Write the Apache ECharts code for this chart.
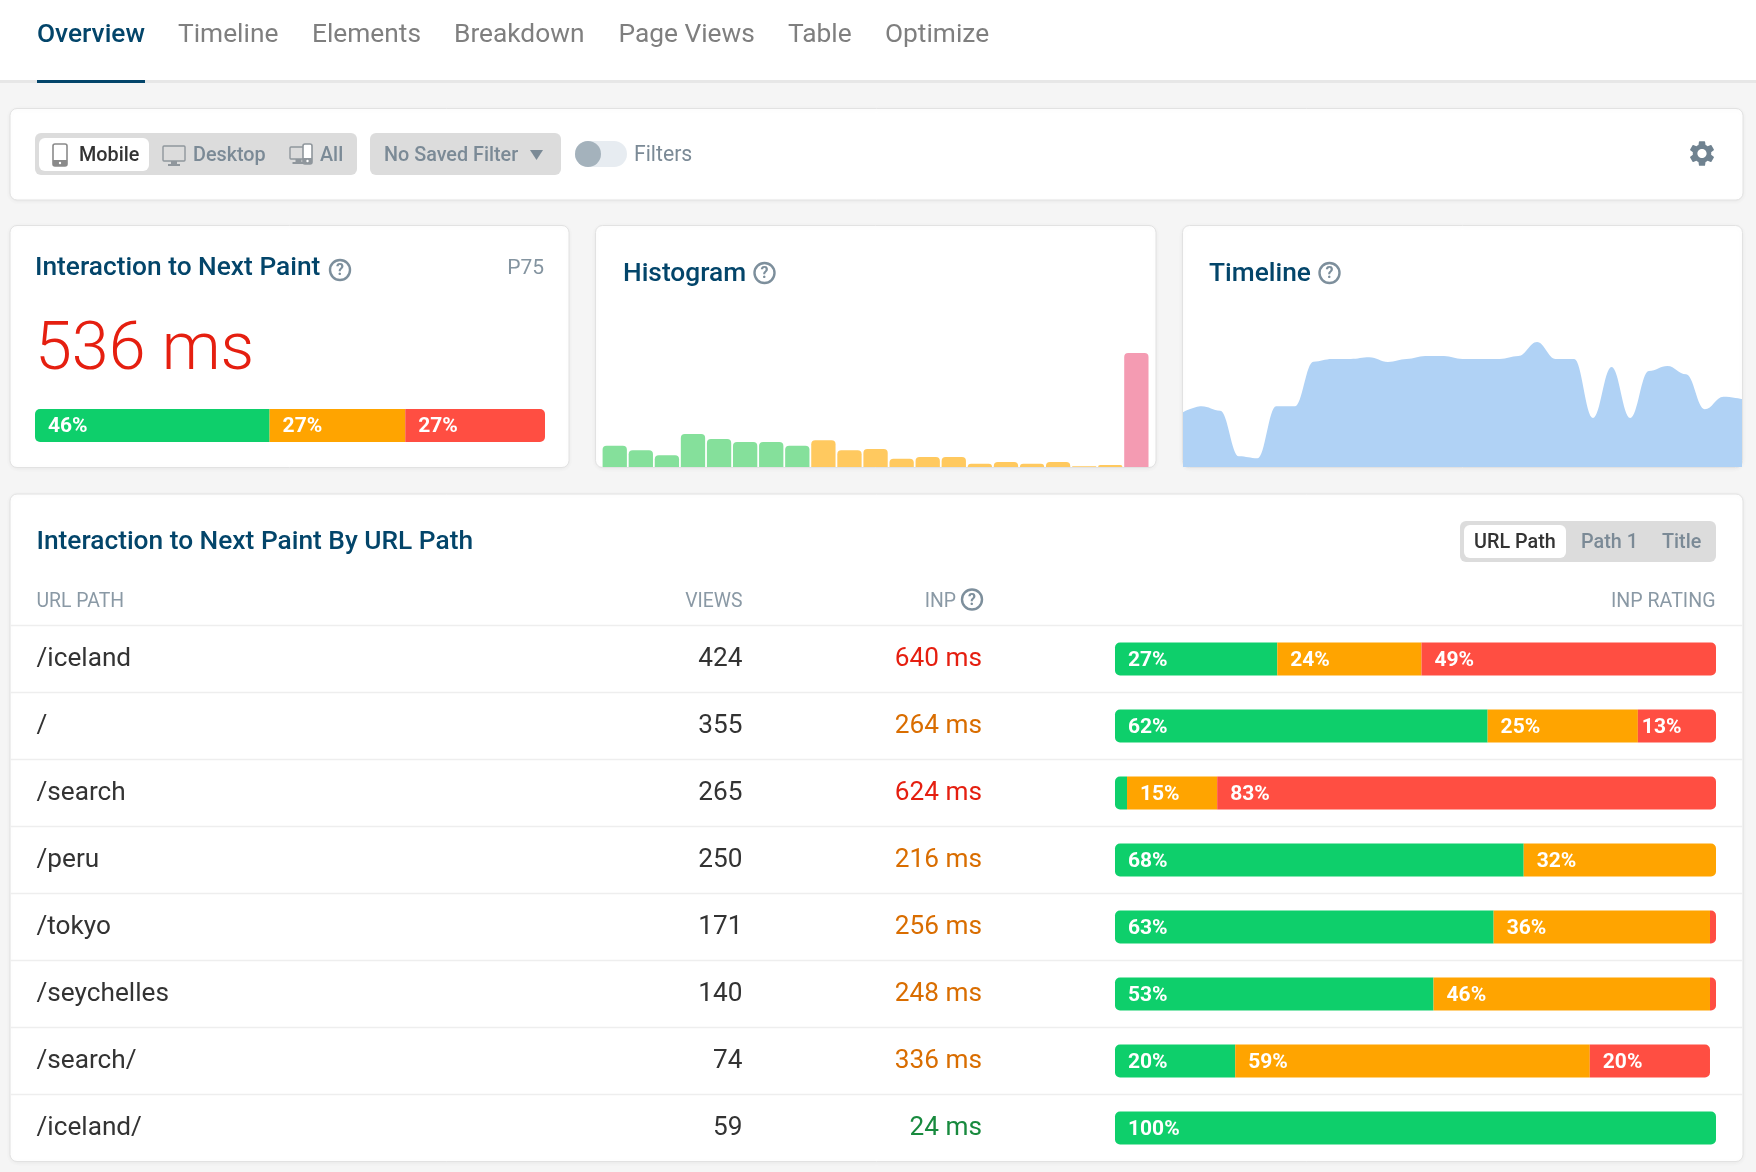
<!DOCTYPE html>
<html><head><meta charset="utf-8">
<style>html,body{margin:0;padding:0;background:#f5f5f5}#c{width:1756px;height:1172px}</style>
<script src="https://cdn.jsdelivr.net/npm/echarts@6/dist/echarts.min.js"></script>
</head><body><div id="c"></div>
<script>
const tabLabels = ['Overview','Timeline','Elements','Breakdown','Page Views','Table','Optimize'];
const summaryShares = [46, 26.6, 27.4];
const pathNames = ['/iceland','/','/search','/peru','/tokyo','/seychelles','/search/','/iceland/'];
const viewCounts = [424,355,265,250,171,140,74,59];
const inpValues = [640,264,624,216,256,248,336,24];
const goodShare = [27,62,2,68,63,53,20,100];
const mediumShare = [24,25,15,32,36,46,59,0];
const poorShare = [49,13,83,0,1,1,20,0];
const histogramValues = [64,50,35,99,84,75,75,64,80,50,54,25,30,30,10,15,10,15,2,6,342];
const timelineValues = [164,182,169,32,26,182,182,316,324,324,329,315,324,333,333,324,324,324,333,375,324,324,147,300,147,288,303,278,173,211,204];

const GREEN='#0ecf6b', ORANGE='#ffa400', RED='#ff4e42';
const NAVY='#03456a', GREY='#7b8a96';
const FONT='Roboto';
const GEAR='M19.14 12.94c.04-.3.06-.61.06-.94 0-.32-.02-.64-.07-.94l2.03-1.58c.18-.14.23-.41.12-.61l-1.92-3.32c-.12-.22-.37-.29-.59-.22l-2.39.96c-.5-.38-1.03-.7-1.62-.94l-.36-2.54c-.04-.24-.24-.41-.48-.41h-3.84c-.24 0-.43.17-.47.41l-.36 2.54c-.59.24-1.13.57-1.62.94l-2.39-.96c-.22-.08-.47 0-.59.22L2.74 8.87c-.12.21-.08.47.12.61l2.03 1.58c-.05.3-.09.63-.09.94s.02.64.07.94l-2.03 1.58c-.18.14-.23.41-.12.61l1.92 3.32c.12.22.37.29.59.22l2.39-.96c.5.38 1.03.7 1.62.94l.36 2.54c.05.24.24.41.48.41h3.84c.24 0 .44-.17.47-.41l.36-2.54c.59-.24 1.13-.56 1.62-.94l2.39.96c.22.08.47 0 .59-.22l1.92-3.32c.12-.22.07-.47-.12-.61l-2.01-1.58zM12 15.6c-1.98 0-3.6-1.62-3.6-3.6s1.62-3.6 3.6-3.6 3.6 1.62 3.6 3.6-1.62 3.6-3.6 3.6z';
const G=[];
function rect(x,y,w,h,fill,r,stroke){G.push({type:'rect',shape:{x,y,width:w,height:h,r:r||0},style:{fill,stroke:stroke||null,lineWidth:stroke?1:0}});}
function text(t,x,y,size,color,weight,align){G.push({type:'text',x,y:y+size*0.07,style:{text:t,fill:color,font:(weight||400)+' '+size+'px '+FONT,textAlign:align||'left',textVerticalAlign:'middle'}});}
function card(x,y,w,h){G.push({type:'rect',shape:{x:x,y:y,width:w,height:h,r:7},style:{fill:'#fff',stroke:'#e2e2e2',lineWidth:1,shadowBlur:4,shadowColor:'rgba(0,0,0,0.05)',shadowOffsetY:1}});}
function help(x,y){G.push({type:'circle',shape:{cx:x,cy:y,r:10},style:{fill:'none',stroke:'#7d8f9c',lineWidth:2.4}});text('?',x,y,16,'#7d8f9c',700,'center');}
function line(x1,y1,x2,y2,color,w){G.push({type:'line',shape:{x1,y1,x2,y2},style:{stroke:color,lineWidth:w||1}});}

// top tabs
rect(0,0,1756,80,'#fff');
rect(0,80,1756,3,'#e7e7e7');
rect(37,80,108,3,NAVY);
const tabX=[37,178,312,454,618.5,788,885];
tabLabels.forEach((t,i)=>text(t,tabX[i],33.5,26.3,i===0?NAVY:'#7f7f7f',i===0?500:400));

// filter card
card(10,108.5,1733,91.5);
rect(35,133,322,42,'#dcdcdc',6);
rect(39,138,110,33,'#fff',6);
text('Mobile',79,155,19.8,'#333',500);
text('Desktop',193,155,19.8,GREY,500);
text('All',320,155,19.8,GREY,500);
function phone(x,y,w,h,c){
  G.push({type:'rect',shape:{x,y,width:w,height:h,r:2},style:{fill:'#fff',stroke:c,lineWidth:1.6}});
  G.push({type:'rect',shape:{x:x,y:y+h-6,width:w,height:6,r:[0,0,2,2]},style:{fill:c}});
  G.push({type:'circle',shape:{cx:x+w/2,cy:y+h-3,r:1.2},style:{fill:'#fff'}});
}
function monitor(x,y,w,h,c,fill){
  G.push({type:'rect',shape:{x,y,width:w,height:h,r:1},style:{fill:fill,stroke:c,lineWidth:1.4}});
  G.push({type:'rect',shape:{x:x+w/2-3,y:y+h,width:6,height:3},style:{fill:c}});
  G.push({type:'rect',shape:{x:x+w/2-6,y:y+h+3,width:12,height:2},style:{fill:c}});
}
phone(53,144,14,22,'#8a8a8a');
monitor(163,146,22,15,'#8f969c','#dcdcdc');
monitor(290,147,17,12,'#8f969c','#dcdcdc');
phone(303,144,9,20,'#8f969c');
rect(370,133,191,42,'#dcdcdc',6);
text('No Saved Filter',384,155,19.8,GREY,500);
G.push({type:'polygon',shape:{points:[[530,150],[543,150],[536.5,160]]},style:{fill:GREY}});
rect(575,141,52,26,'#e7ecf1',13);
G.push({type:'circle',shape:{cx:588,cy:154,r:13},style:{fill:'#a4b2bc'}});
text('Filters',634,154,21.2,GREY,400);

// metric cards
card(10,225.5,559,242);
card(595.5,225.5,560.5,242);
card(1182.5,225.5,560,242);
text('Interaction to Next Paint',35,267,26.3,NAVY,500);
help(340,270);
text('P75',544,267,21,'#8494a0',400,'right');
text('536 ms',35,348,66.4,'#e51f10',300);
text('Histogram',623,272.5,26.3,NAVY,500);
help(764.5,273);
text('Timeline',1209,272.5,26.3,NAVY,500);
help(1329.5,273);

// table card
card(10,494,1733,667.5);
text('Interaction to Next Paint By URL Path',36.5,541,26.3,NAVY,500);
rect(1460,521,256,41,'#dcdcdc',6);
rect(1464,525,102,33,'#fff',6);
text('URL Path',1474,542,19.8,'#333',500);
text('Path 1',1581,542,19.8,GREY,500);
text('Title',1662,542,19.8,GREY,500);
text('URL PATH',36.5,600.5,19.4,'#8a99a5',400);
text('VIEWS',742.5,600.5,19.4,'#8a99a5',400,'right');
text('INP',956,600.5,19.4,'#8a99a5',400,'right');
help(972,599.5);
text('INP RATING',1715.5,600.5,19.6,'#8a99a5',400,'right');
for(let i=0;i<8;i++) line(10.5,625.5+67*i,1742.5,625.5+67*i,'#eeeeee',1.5);

function segments(values,prev,next){
  return values.map((v,i)=>{
    const r=5;
    const first=(prev?prev[i]:0)===0, last=(next?next[i]:0)===0;
    const d={value:v,itemStyle:{borderRadius:[first?r:0,last?r:0,last?r:0,first?r:0]}};
    if(v>=5&&v<15) d.label={distance:4};
    return d;
  });
}
function labelCfg(){return {show:true,position:'insideLeft',distance:13,offset:[0,1.5],color:'#fff',fontFamily:FONT,fontWeight:700,fontSize:21,
  formatter:p=>p.value>=5?Math.round(p.value)+'%':''};}
function stackSeries(name,color,data,x,y,stack){
  return {type:'bar',name,stack,xAxisIndex:x,yAxisIndex:y,data,barWidth:33,
    itemStyle:{color},label:labelCfg(),silent:true};
}
const hidden={show:false};
const noAxis={axisLine:hidden,axisTick:hidden,splitLine:hidden};
const free={outerBoundsMode:'none',containLabel:false};

const option={
  backgroundColor:'#f5f5f5',
  animation:false,
  textStyle:{fontFamily:FONT},
  graphic:{elements:G},
  grid:[
    {left:35,top:409,width:510,height:33,...free},
    {left:601.7,top:300,width:547.7,height:167,...free},
    {left:1183,top:300,width:559,height:167,...free},
    {left:1115,top:625.5,width:601,height:536,...free}
  ],
  xAxis:[
    {gridIndex:0,type:'value',min:0,max:100,show:false},
    {gridIndex:1,type:'category',data:histogramValues.map((_,i)=>i),show:false},
    {gridIndex:2,type:'category',boundaryGap:false,data:timelineValues.map((_,i)=>i),show:false},
    {gridIndex:3,type:'value',min:0,max:100,show:false}
  ],
  yAxis:[
    {gridIndex:0,type:'category',data:['All'],show:false},
    {gridIndex:1,type:'value',min:0,max:501,show:false},
    {gridIndex:2,type:'value',min:0,max:501,show:false},
    {gridIndex:3,type:'category',position:'left',inverse:true,data:pathNames,...noAxis,
      axisLabel:{align:'left',margin:1078.5,fontSize:26.2,color:'#333',fontFamily:FONT,padding:[8.8,0,0,0]}},
    {gridIndex:3,type:'category',position:'left',inverse:true,data:viewCounts.map(String),...noAxis,
      axisLabel:{align:'right',margin:372.5,fontSize:26.2,color:'#333',fontFamily:FONT,padding:[8.8,0,0,0]}},
    {gridIndex:3,type:'category',position:'left',inverse:true,data:inpValues.map(v=>v+' ms'),...noAxis,
      axisLabel:{align:'right',margin:133,fontSize:26.2,fontFamily:FONT,padding:[8.8,0,0,0],
        color:(v,i)=>inpValues[i]>500?'#e51f10':(inpValues[i]>200?'#d96d00':'#188a3e')}}
  ],
  series:[
    stackSeries('Good',GREEN,segments([summaryShares[0]],null,[1]),0,0,'s'),
    stackSeries('Needs Improvement',ORANGE,segments([summaryShares[1]],[1],[1]),0,0,'s'),
    stackSeries('Poor',RED,segments([summaryShares[2]],[1],null),0,0,'s'),
    {type:'bar',name:'Histogram',xAxisIndex:1,yAxisIndex:1,data:histogramValues,barWidth:24.3,silent:true,
      itemStyle:{borderRadius:[4,4,0,0],color:p=>p.dataIndex<8?'#85e09b':(p.dataIndex<20?'#ffc95f':'#f49bb2')}},
    {type:'line',name:'Timeline',xAxisIndex:2,yAxisIndex:2,data:timelineValues,smooth:0.4,smoothMonotone:'x',showSymbol:false,silent:true,
      lineStyle:{width:0},areaStyle:{color:'#b0d2f5',opacity:1}},
    stackSeries('Good',GREEN,segments(goodShare,null,mediumShare.map((m,i)=>m+poorShare[i])),3,3,'r'),
    stackSeries('Needs Improvement',ORANGE,segments(mediumShare,goodShare,poorShare),3,3,'r'),
    stackSeries('Poor',RED,segments(poorShare,mediumShare.map((m,i)=>m+goodShare[i]),null),3,3,'r'),
    {type:'custom',name:'Settings',coordinateSystem:'none',data:[0],silent:true,
      renderItem:()=>({type:'path',shape:{pathData:GEAR,x:1689.7,y:141.2,width:24.6,height:24.6},style:{fill:'#6f8290'}})}
  ]
};
echarts.init(document.getElementById('c'),null,{renderer:'canvas'}).setOption(option);
</script></body></html>
